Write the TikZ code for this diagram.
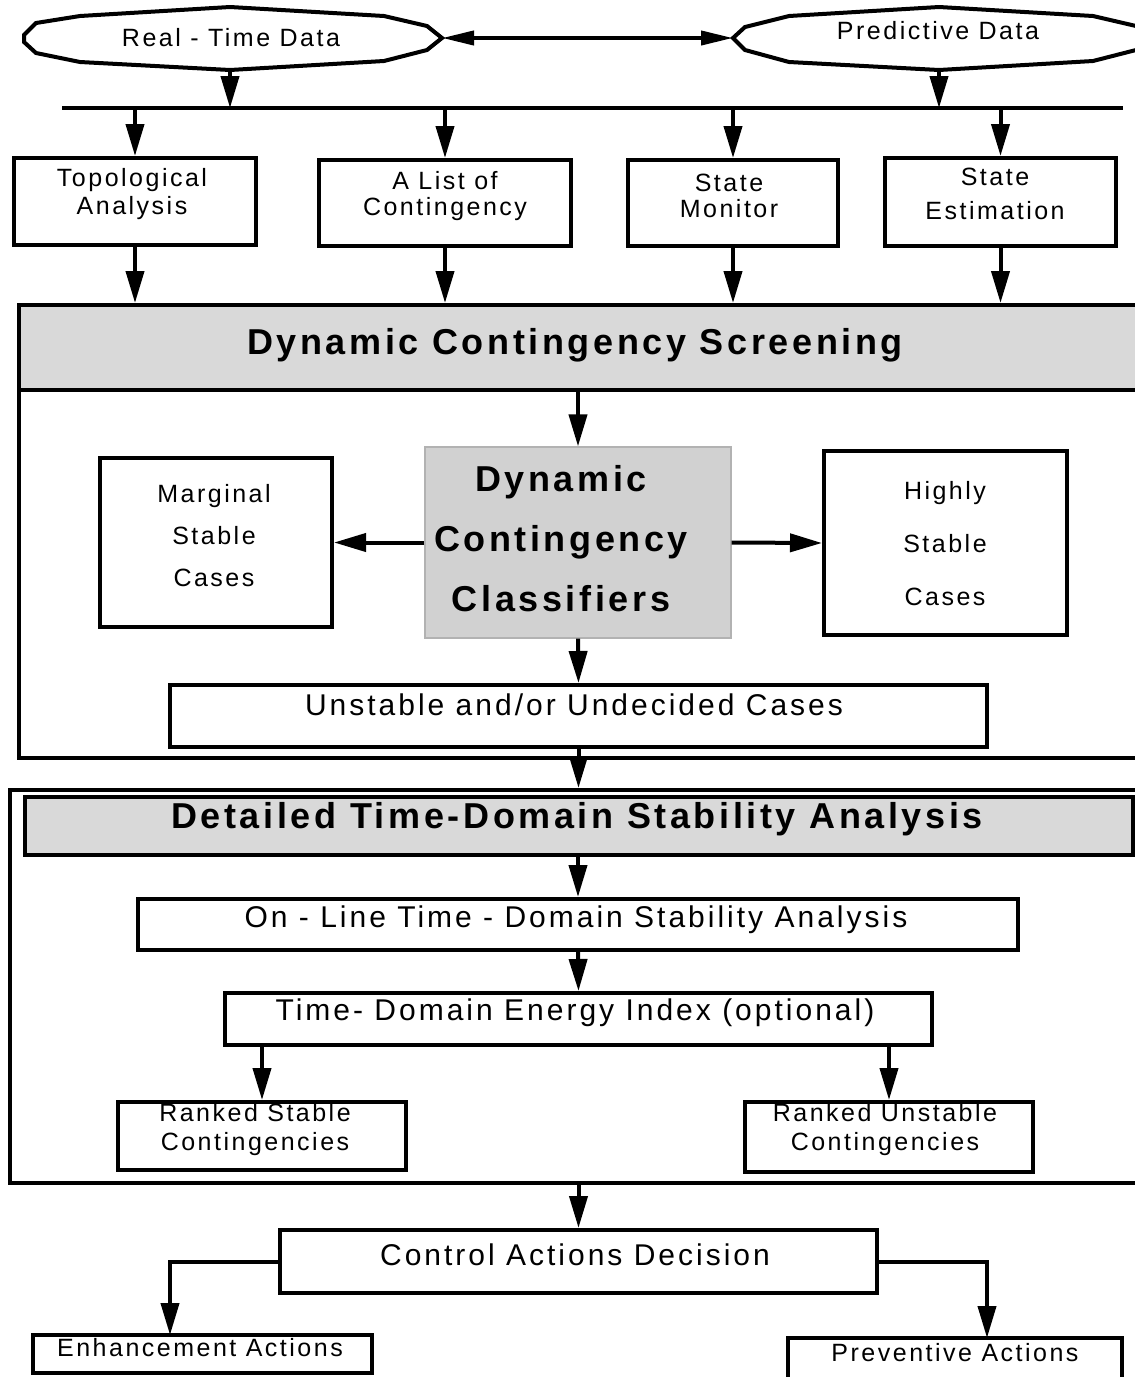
\documentclass[tikz,border=0pt]{standalone}
\usepackage{fontspec}
\setmainfont{Liberation Sans}[LetterSpace=10]
\usetikzlibrary{arrows.meta}
\begin{document}
\begin{tikzpicture}[x=0.5pt,y=-0.5pt,
  lw/.style={line width=2pt},
  arr/.style={line width=2pt,-{Triangle[length=16pt,width=9pt]}},
  darr/.style={line width=2pt,{Triangle[length=16pt,width=7pt]}-{Triangle[length=16pt,width=7pt]}},
  box/.style={draw,line width=2pt,inner sep=0pt,fill=white},
  frame/.style={draw,line width=2pt,inner sep=0pt},
  hdr/.style={draw,line width=2pt,inner sep=0pt,fill=black!15},
  txt/.style={inner sep=0pt,align=center,font=\fontsize{12.5}{#1}\selectfont},
  txt/.default=14,
  mtxt/.style={inner sep=0pt,align=center,font=\fontsize{15}{18}\selectfont},
  btxt/.style={inner sep=0pt,align=center,font=\fontsize{18}{#1}\bfseries\selectfont},
  btxt/.default=22]
\useasboundingbox (0,0) rectangle (1135,1377);
\clip (0,0) rectangle (1135,1377);
\fill[white] (0,0) rectangle (1135,1377);

% --- data sources
\draw[lw,fill=white] (24,35) -- (36,23) -- (80,16) -- (230,7) -- (384,16) -- (427,26) -- (442,38) -- (427,50) -- (384,61) -- (230,70) -- (80,62) -- (36,53) -- (24,42) -- cycle;
\draw[lw,fill=white] (733,38) -- (745,27) -- (789,16) -- (939,7) -- (1093,16) -- (1136,26) -- (1151,38) -- (1136,50) -- (1093,61) -- (939,70) -- (789,62) -- (745,50) -- cycle;
\node[txt] (rt) at (231,38) {Real - Time Data};
\node[txt] (pd) at (938,31) {Predictive Data};
\coordinate (rtE) at (442,38);
\coordinate (rtS) at (230,70);
\coordinate (pdW) at (733,38);
\coordinate (pdS) at (939,70);
\draw[darr] (rtE) -- (pdW);

% --- bus
\coordinate (busL) at (62,108);
\coordinate (busR) at (1123,108);
\draw[lw] (busL) -- (busR);
\draw[arr] (rtS) -- (rtS |- busL);
\draw[arr] (pdS) -- (pdS |- busL);

% --- row of inputs
\node[box,minimum width=121pt,minimum height=43.5pt] (topo) at (135,201.5) {};
\node[box,minimum width=126pt,minimum height=43pt] (list) at (445,203) {};
\node[box,minimum width=105pt,minimum height=43pt] (mon) at (733,203) {};
\node[box,minimum width=115.5pt,minimum height=44pt] (est) at (1000.5,202) {};
\node[txt=14] (topoT) at (132,194) {Topological\\Analysis};
\node[txt=13] (listT) at (445,196) {A List of\\Contingency};
\node[txt=13] (monT) at (729,196) {State\\Monitor};
\node[txt=17] (estT) at (995,194) {State\\Estimation};
\foreach \b in {topo,list,mon,est} \draw[arr] (\b.north |- busL) -- (\b.north);

% --- dynamic contingency screening
\node[frame,minimum width=570.5pt,minimum height=226.5pt] (f1) at (589.5,531.5) {};
\node[hdr,minimum width=570.5pt,minimum height=42.5pt] (scr) at (589.5,347.5) {};
\node[btxt] (scrT) at (575,345) {Dynamic Contingency Screening};
\foreach \b in {topo,list,mon,est} \draw[arr] (\b.south) -- (\b.south |- scr.north);

\node[draw=black!30,line width=0.6pt,fill=black!18,inner sep=0pt,minimum width=153pt,minimum height=95.5pt] (cls) at (578,542.5) {};
\node[btxt=30] (clsT) at (561,539) {Dynamic\\Contingency\\Classifiers};
\node[box,minimum width=116pt,minimum height=84.5pt] (marg) at (216,542.5) {};
\node[txt=21] (margT) at (214,536) {Marginal\\Stable\\Cases};
\node[box,minimum width=121.5pt,minimum height=92pt] (high) at (945.5,543) {};
\node[txt=26.5] (highT) at (945,544) {Highly\\Stable\\Cases};
\node[box,minimum width=408.5pt,minimum height=31pt] (uns) at (578.5,716) {};
\node[mtxt] (unsT) at (574,705) {Unstable and/or Undecided Cases};

\draw[arr] (cls.north |- scr.south) -- (cls.north);
\draw[arr] (cls.west) -- (marg.east);
\draw[arr] (cls.east) -- (high.west);
\draw[arr] (cls.south) -- (uns.north);

% --- detailed time-domain stability analysis
\node[frame,minimum width=575pt,minimum height=196.5pt] (f2) at (585,986.5) {};
\node[hdr,minimum width=554pt,minimum height=29pt] (det) at (579,826) {};
\node[btxt] (detT) at (577,819) {Detailed Time-Domain Stability Analysis};
\draw[arr] (uns.south) -- (uns.south |- f2.north);

\node[box,minimum width=440pt,minimum height=25.5pt] (onl) at (578,924.5) {};
\node[mtxt] (onlT) at (576,920) {On - Line Time - Domain Stability Analysis};
\node[box,minimum width=353.5pt,minimum height=26pt] (en) at (578.5,1019) {};
\node[mtxt] (enT) at (575,1013) {Time- Domain Energy Index (optional)};
\node[box,minimum width=144pt,minimum height=34pt] (rs) at (262,1136) {};
\node[txt=14.5] (rsT) at (255,1130) {Ranked Stable\\Contingencies};
\node[box,minimum width=144pt,minimum height=35pt] (ru) at (889,1137) {};
\node[txt=14.5] (ruT) at (885,1130) {Ranked Unstable\\Contingencies};

\draw[arr] (onl.north |- det.south) -- (onl.north);
\draw[arr] (onl.south) -- (en.north);
\draw[arr] (rs.north |- en.south) -- (rs.north);
\draw[arr] (ru.north |- en.south) -- (ru.north);

% --- control actions
\node[box,minimum width=298.5pt,minimum height=31.5pt] (ctl) at (578.5,1261.5) {};
\node[mtxt] (ctlT) at (575,1255) {Control Actions Decision};
\draw[arr] (ctl.north |- f2.south) -- (ctl.north);

\node[box,minimum width=169.5pt,minimum height=19pt] (enh) at (202.5,1354) {};
\node[txt] (enhT) at (200,1348) {Enhancement Actions};
\node[box,minimum width=167pt,minimum height=31pt] (pv) at (955,1369) {};
\node[txt] (pvT) at (955,1353) {Preventive Actions};
\coordinate (enhA) at (170,1335);
\coordinate (pvA) at (987,1338);
\draw[arr] (ctl.west) -| (enhA);
\draw[arr] (ctl.east) -| (pvA);
\end{tikzpicture}
\end{document}
